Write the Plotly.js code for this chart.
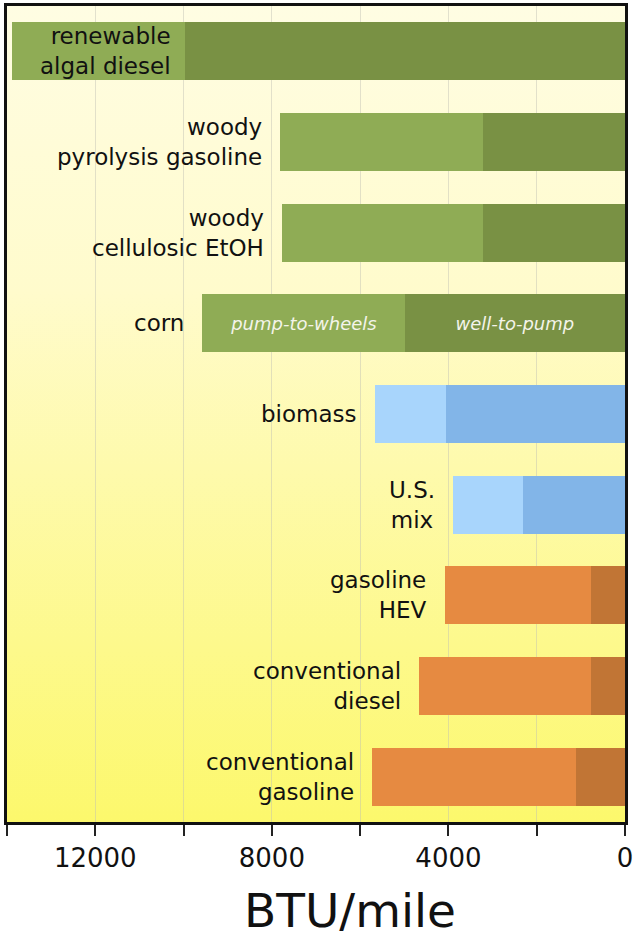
<!DOCTYPE html>
<html>
<head>
<meta charset="utf-8">
<script src="https://cdn.plot.ly/plotly-3.0.1.min.js"></script>
<style>
  html, body { margin: 0; padding: 0; background: #ffffff; }
  #chart { width: 634px; height: 940px; }
</style>
</head>
<body>
<div id="chart"></div>
<script>
// ---- data (top to bottom) ----
const categories = [
  'renewable algal diesel',
  'woody pyrolysis gasoline',
  'woody cellulosic EtOH',
  'corn',
  'biomass',
  'U.S. mix',
  'gasoline HEV',
  'conventional diesel',
  'conventional gasoline'
];
const categoryLabels = [
  'renewable<br>algal diesel',
  'woody<br>pyrolysis gasoline',
  'woody<br>cellulosic EtOH',
  'corn',
  'biomass',
  'U.S.<br>mix',
  'gasoline<br>HEV',
  'conventional<br>diesel',
  'conventional<br>gasoline'
];
const wellToPump   = [9970, 3210, 3210, 4990, 4060, 2310, 770, 770, 1110];
const pumpToWheels = [3920, 4610, 4560, 4590, 1610, 1590, 3310, 3900, 4620];
const wellToPumpText   = ['', '', '', 'well-to-pump', '', '', '', '', ''];
const pumpToWheelsText = ['', '', '', 'pump-to-wheels', '', '', '', '', ''];
const tickValues = [0, 2000, 4000, 6000, 8000, 10000, 12000, 14000];
const tickLabels = ['0', '', '4000', '', '8000', '', '12000', ''];
const xTitle = 'BTU/mile';

// ---- styles ----
const darkColors  = ['#799144', '#799144', '#799144', '#799144', '#82b5e8', '#82b5e8', '#c17535', '#c17535', '#c17535'];
const lightColors = ['#8fac55', '#8fac55', '#8fac55', '#8fac55', '#a8d5fc', '#a8d5fc', '#e68a41', '#e68a41', '#e68a41'];
const FONT = 'DejaVu Sans, Liberation Sans, Arial, sans-serif';

const innerFont = { family: FONT, size: 18, color: '#f4f4ea', style: 'italic' };

const traces = [
  {
    type: 'bar', orientation: 'h', name: 'well-to-pump',
    y: categories, x: wellToPump,
    marker: { color: darkColors, line: { width: 0 } },
    text: wellToPumpText, textposition: 'inside', insidetextanchor: 'middle',
    textfont: innerFont, constraintext: 'none', hoverinfo: 'none'
  },
  {
    type: 'bar', orientation: 'h', name: 'pump-to-wheels',
    y: categories, x: pumpToWheels,
    marker: { color: lightColors, line: { width: 0 } },
    text: pumpToWheelsText, textposition: 'inside', insidetextanchor: 'middle',
    textfont: innerFont, constraintext: 'none', hoverinfo: 'none'
  }
];

// labels to the left of each bar
const annotations = categories.map((c, i) => {
  const first = i === 0;
  return {
    x: first ? wellToPump[i] : wellToPump[i] + pumpToWheels[i],
    y: c, xref: 'x', yref: 'y',
    text: categoryLabels[i],
    showarrow: false,
    xanchor: 'right', yanchor: 'middle',
    align: c === 'U.S. mix' ? 'center' : 'right',
    xshift: first ? -12 : -16,
    font: { family: FONT, size: 23, color: '#111111' }
  };
});

// axis title, placed as in the reference (slightly right of centre)
annotations.push({
  x: 0.555, y: -0.109, xref: 'paper', yref: 'paper',
  xanchor: 'center', yanchor: 'middle', showarrow: false,
  text: xTitle,
  font: { family: FONT, size: 47, color: '#111111' }
});

const gradSvg = "<svg xmlns='http://www.w3.org/2000/svg' width='100' height='100' preserveAspectRatio='none'>" +
  "<defs><linearGradient id='g' x1='0' y1='0' x2='0' y2='1'>" +
  "<stop offset='0' stop-color='#fffde3'/>" +
  "<stop offset='0.35' stop-color='#fffbcc'/>" +
  "<stop offset='1' stop-color='#fcf86c'/>" +
  "</linearGradient></defs><rect width='100' height='100' fill='url(#g)'/></svg>";

const layout = {
  width: 634, height: 940,
  margin: { l: 7, r: 9, t: 6, b: 118 },
  paper_bgcolor: '#ffffff',
  plot_bgcolor: 'rgba(0,0,0,0)',
  barmode: 'stack',
  bargap: 0.36,
  showlegend: false,
  font: { family: FONT, color: '#111111' },
  xaxis: {
    range: [14000, 0],
    tickvals: tickValues, ticktext: tickLabels,
    ticks: 'outside', ticklen: 11, tickwidth: 2, tickcolor: '#222222',
    tickfont: { family: FONT, size: 26, color: '#111111' },
    showgrid: true, gridcolor: 'rgba(190,190,180,0.45)', gridwidth: 1,
    zeroline: false,
    showline: true, mirror: true, linewidth: 3, linecolor: '#111111',
    title: { text: '' },
    fixedrange: true
  },
  yaxis: {
    type: 'category',
    range: [8.5, -0.5],
    showticklabels: false, ticks: '',
    showgrid: false, zeroline: false,
    showline: true, mirror: true, linewidth: 3, linecolor: '#111111',
    fixedrange: true
  },
  images: [{
    source: 'data:image/svg+xml;base64,' + btoa(gradSvg),
    xref: 'paper', yref: 'paper', x: 0, y: 1, sizex: 1, sizey: 1,
    xanchor: 'left', yanchor: 'top', sizing: 'stretch', layer: 'below'
  }],
  annotations: annotations
};

Plotly.newPlot('chart', traces, layout, { displayModeBar: false, staticPlot: true });
</script>
</body>
</html>
